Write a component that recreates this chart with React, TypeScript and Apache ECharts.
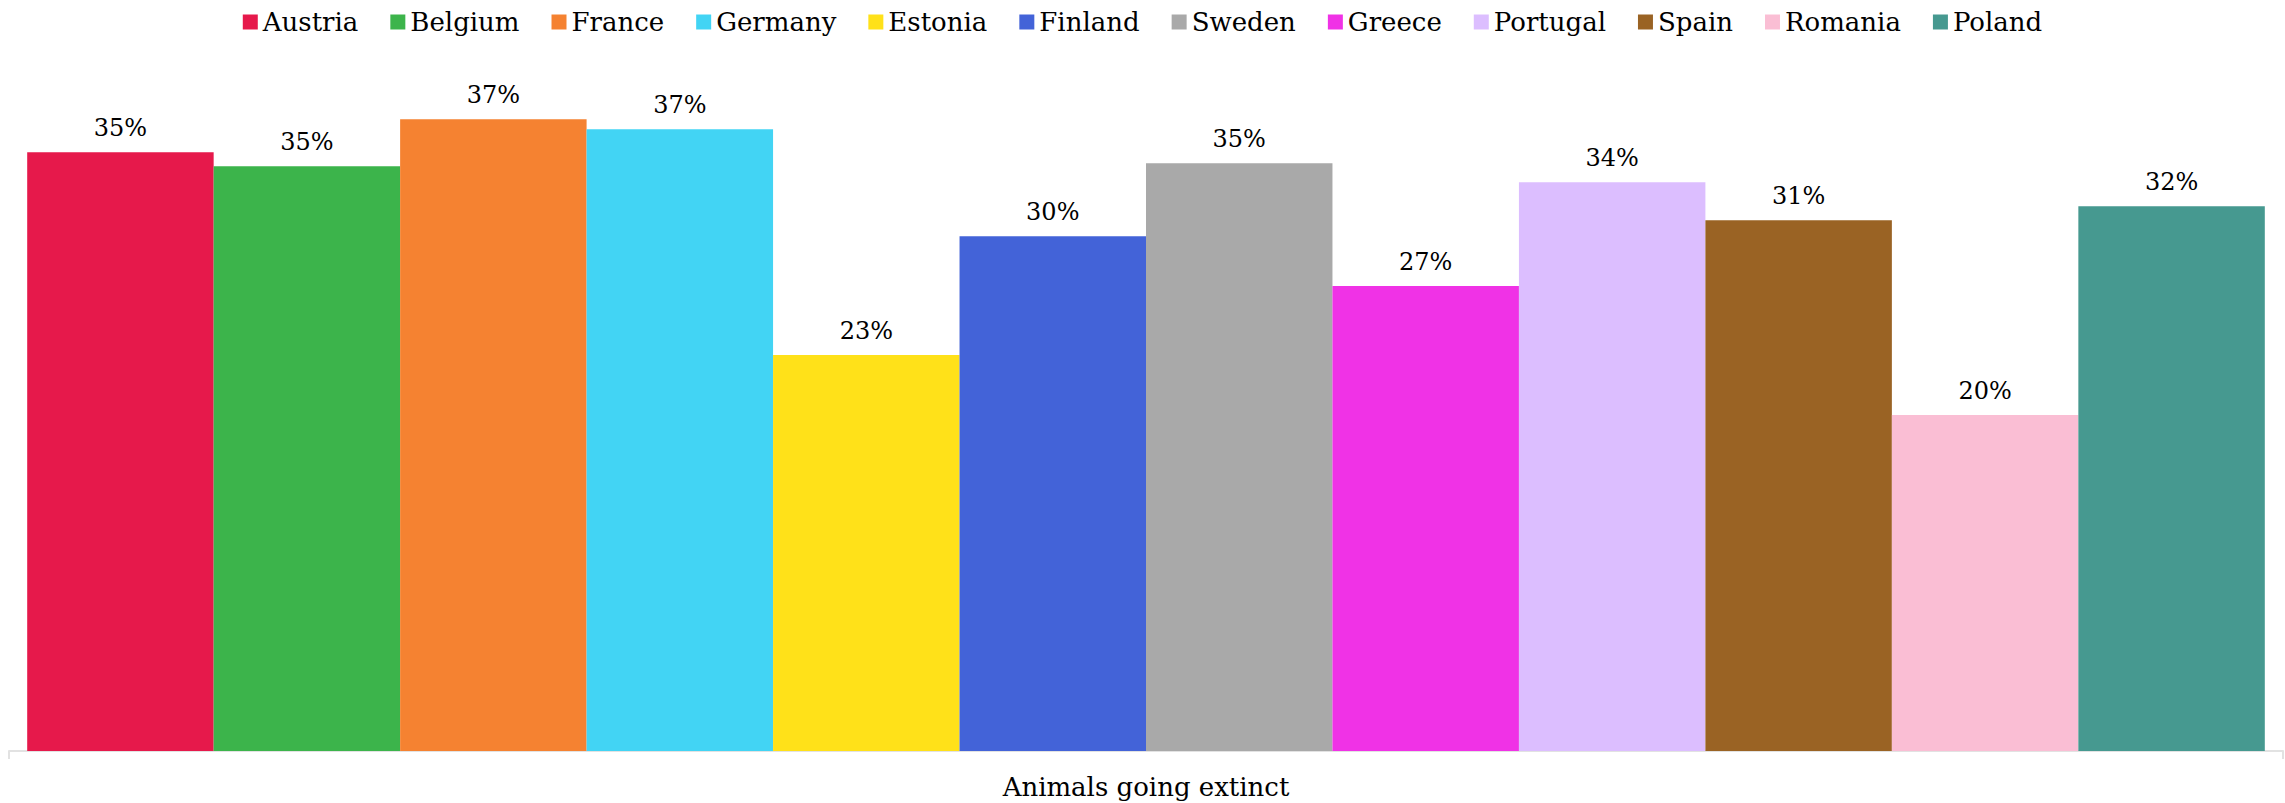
import React, { useEffect, useRef } from "react";
import * as echarts from "echarts";

const categories = ["Animals going extinct"];
const countries = [
  "Austria", "Belgium", "France", "Germany", "Estonia", "Finland",
  "Sweden", "Greece", "Portugal", "Spain", "Romania", "Poland",
];
const values = [35.38, 34.55, 37.33, 36.74, 23.39, 30.42, 34.73, 27.47, 33.61, 31.36, 19.85, 32.19];
const colors = [
  "#e6194b", "#3cb44b", "#f58231", "#42d4f4", "#ffe119", "#4363d8",
  "#a9a9a9", "#f032e6", "#dcbeff", "#9a6324", "#fabed4", "#469990",
];

const FONT = "'DejaVu Serif', Georgia, serif";

export default function App() {
  const ref = useRef<HTMLDivElement>(null);
  useEffect(() => {
    if (!ref.current) return;
    const chart = echarts.init(ref.current, null, { renderer: "svg" });
    chart.setOption({
      animation: false,
      textStyle: { fontFamily: FONT },
      color: colors,
      legend: {
        top: 4,
        left: "center",
        icon: "rect",
        itemWidth: 15,
        itemHeight: 15,
        itemGap: 32,
        textStyle: { fontFamily: FONT, fontSize: 26, color: "#000" },
        data: countries,
      },
      grid: { left: 9, right: 2, top: 74, bottom: 52, containLabel: false },
      xAxis: {
        type: "category",
        data: categories,
        axisLine: { lineStyle: { color: "#e2e2e2", width: 2 } },
        axisTick: { show: true, length: 8, lineStyle: { color: "#e2e2e2", width: 2 } },
        axisLabel: { fontFamily: FONT, fontSize: 26, color: "#000", margin: 23 },
      },
      yAxis: { type: "value", min: 0, max: 40, show: false, splitLine: { show: false } },
      series: countries.map((name, i) => ({
        name,
        type: "bar",
        data: [values[i]],
        barGap: "0%",
        barCategoryGap: "1.6%",
        itemStyle: { color: colors[i] },
        label: {
          show: true,
          position: "top",
          distance: 12,
          fontFamily: FONT,
          fontSize: 24,
          color: "#000",
          formatter: (p: any) => `${Math.round(p.value)}%`,
        },
      })),
    });
    return () => chart.dispose();
  }, []);
  return (
    <div
      ref={ref}
      style={{ position: "absolute", left: 0, top: 0, width: 2285, height: 803 }}
    />
  );
}
